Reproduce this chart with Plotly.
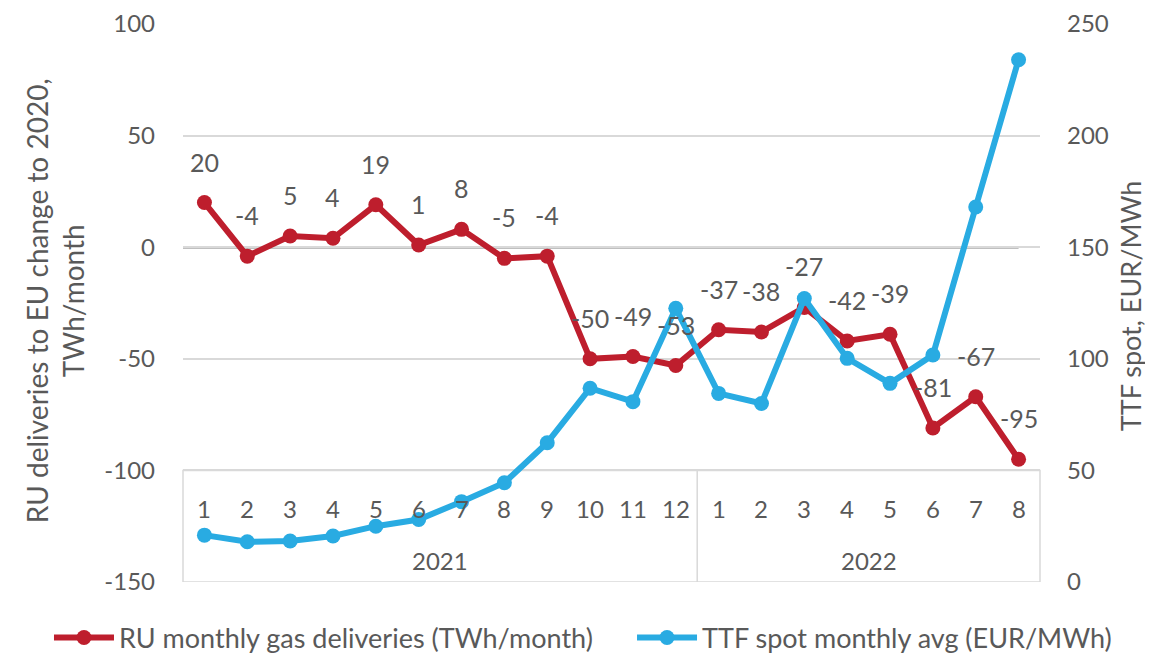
import plotly.graph_objects as go

months = ["1", "2", "3", "4", "5", "6", "7", "8", "9", "10", "11", "12",
          "1", "2", "3", "4", "5", "6", "7", "8"]
years = ["2021", "2022"]
year_counts = [12, 8]
ru_deliveries = [20, -4, 5, 4, 19, 1, 8, -5, -4, -50, -49, -53,
                 -37, -38, -27, -42, -39, -81, -67, -95]
ttf_spot = [21, 18, 18.4, 20.6, 25, 28, 36, 44.5, 62.4, 86.8, 80.8, 122.6,
            84.5, 80, 127, 100.2, 89, 101.7, 168, 234]
left_ticks = [-150, -100, -50, 0, 50, 100]
right_ticks = [0, 50, 100, 150, 200, 250]

RED = "#BE1E2D"
BLUE = "#29ABE2"
TXT = "#595959"
GRID = "#D9D9D9"
FONT = "Lato"
FS_TICK = 24
FS_LABEL = 25
FS_TITLE = 28
FS_LEGEND = 27

xs = list(range(len(months)))

fig = go.Figure()
fig.add_trace(go.Scatter(
    x=xs, y=ru_deliveries, mode="lines+markers",
    name="RU monthly gas deliveries (TWh/month)",
    line=dict(color=RED, width=6), marker=dict(color=RED, size=15),
    yaxis="y", legend="legend"))
fig.add_trace(go.Scatter(
    x=xs, y=ttf_spot, mode="lines+markers",
    name="TTF spot monthly avg (EUR/MWh)",
    line=dict(color=BLUE, width=6), marker=dict(color=BLUE, size=15),
    yaxis="y2", legend="legend2"))

annotations = []
for x, v in zip(xs, ru_deliveries):
    annotations.append(dict(x=x, y=v, xref="x", yref="y", text=str(v),
                            showarrow=False, yshift=41,
                            font=dict(family=FONT, size=FS_LABEL, color=TXT)))
for x, m in zip(xs, months):
    annotations.append(dict(x=x, y=-117, xref="x", yref="y", text=m,
                            showarrow=False,
                            font=dict(family=FONT, size=FS_TICK, color=TXT)))
start = 0
shapes = []
for yr, n in zip(years, year_counts):
    center = start + (n - 1) / 2
    annotations.append(dict(x=center, y=-140.5, xref="x", yref="y", text=yr,
                            showarrow=False,
                            font=dict(family=FONT, size=FS_TICK, color=TXT)))
    start += n
    if start < len(months):
        shapes.append(dict(type="line", xref="x", yref="y",
                           x0=start - 0.5, x1=start - 0.5, y0=-100, y1=-150,
                           line=dict(color=GRID, width=1.5)))

shapes.append(dict(type="rect", xref="paper", yref="y", x0=0, x1=1,
                   y0=-150, y1=-100, line=dict(color=GRID, width=1.5),
                   layer="below"))
shapes.append(dict(type="line", xref="x", yref="y", x0=-0.5,
                   x1=len(months) - 1, y0=0, y1=0,
                   line=dict(color="black", width=2), layer="below"))

annotations.append(dict(xref="paper", yref="paper", x=-0.1494, y=0.505,
                        xanchor="center", yanchor="middle",
                        text="RU deliveries to EU change to 2020,<br>TWh/month",
                        textangle=-90, showarrow=False,
                        font=dict(family=FONT, size=FS_TITLE, color=TXT)))
annotations.append(dict(xref="paper", yref="paper", x=1.105, y=0.496,
                        xanchor="center", yanchor="middle",
                        text="TTF spot, EUR/MWh", textangle=-90,
                        showarrow=False,
                        font=dict(family=FONT, size=FS_LEGEND, color=TXT)))

legend_common = dict(orientation="h", xref="container", yref="container",
                     yanchor="middle", xanchor="left",
                     font=dict(family=FONT, size=FS_LEGEND, color=TXT),
                     itemwidth=60, bgcolor="rgba(0,0,0,0)")

fig.update_layout(
    width=1145, height=649,
    margin=dict(l=175, r=113, t=16, b=75, autoexpand=False),
    paper_bgcolor="white", plot_bgcolor="white",
    font=dict(family=FONT, size=FS_TICK, color=TXT),
    xaxis=dict(range=[-0.5, len(months) - 0.5], showticklabels=False,
               showgrid=False, zeroline=False, showline=False, fixedrange=True),
    yaxis=dict(range=[-150, 100], tickvals=left_ticks,
               ticktext=[str(t) for t in left_ticks],
               showgrid=True, gridcolor=GRID,
               gridwidth=1.5, zeroline=False, showline=False,
               ticks="", ticklabelstandoff=27,
               tickfont=dict(family=FONT, size=FS_TICK, color=TXT)),
    yaxis2=dict(range=[0, 250], tickvals=right_ticks,
                ticktext=[str(t) for t in right_ticks],
                overlaying="y", side="right",
                showgrid=False, zeroline=False, showline=False, ticks="",
                ticklabelstandoff=26,
                tickfont=dict(family=FONT, size=FS_TICK, color=TXT)),
    legend=dict(legend_common, x=0.0358, y=0.0293),
    legend2=dict(legend_common, x=0.545, y=0.0293),
    annotations=annotations, shapes=shapes,
    showlegend=True,
)

fig.write_html("out.html")
